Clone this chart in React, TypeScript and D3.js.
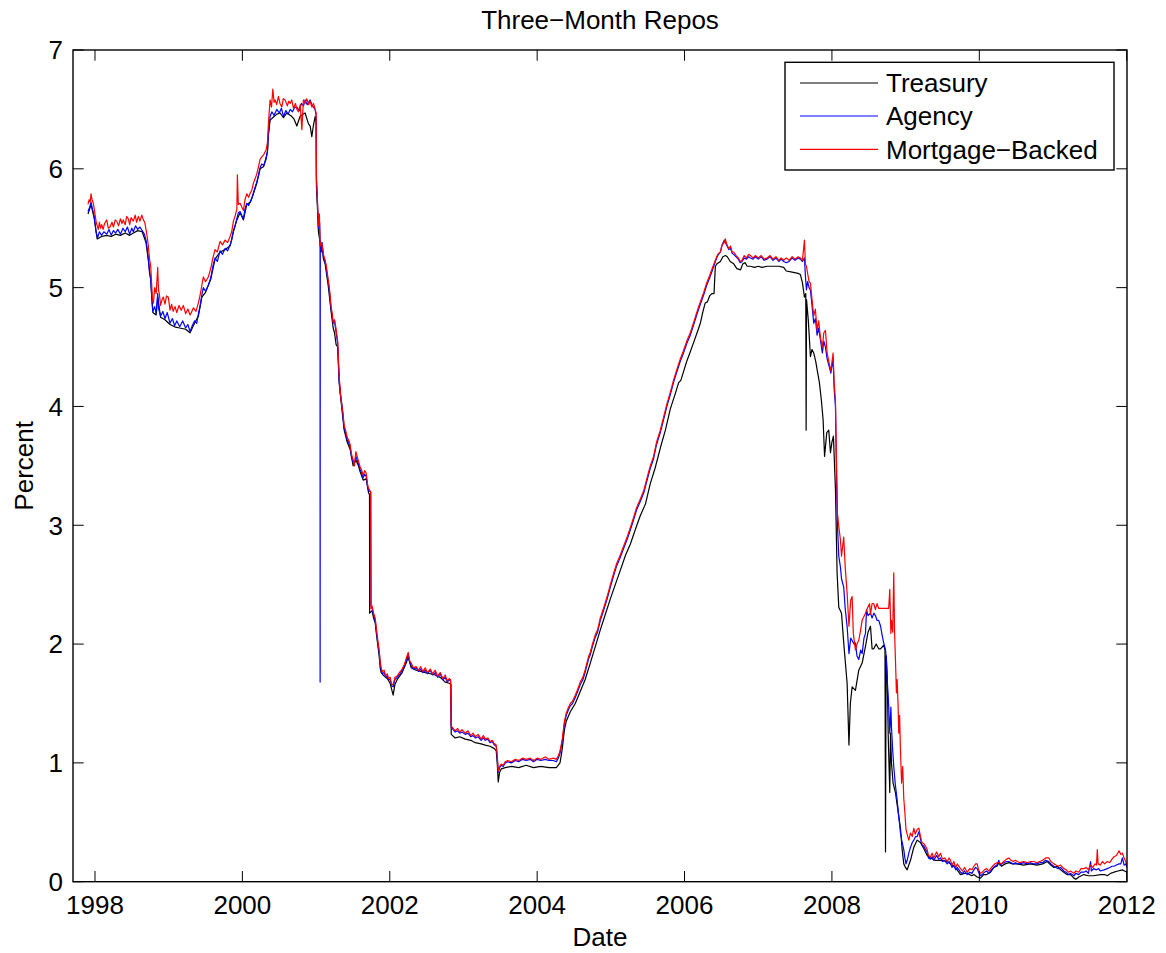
import React from "react";
import * as d3 from "d3";

// [decimal year, percent]
const treasury: [number, number][] = [
[1997.905,5.62],[1997.946,5.70],[1997.99,5.58],[1998.03,5.41],[1998.09,5.43],[1998.159,5.44],[1998.22,5.43],[1998.28,5.45],[1998.345,5.44],[1998.41,5.46],[1998.47,5.44],[1998.52,5.46],[1998.58,5.48],[1998.64,5.47],[1998.692,5.38],[1998.724,5.23],[1998.756,5.06],[1998.785,4.79],[1998.83,4.77],[1998.851,4.92],[1998.89,4.75],[1998.95,4.73],[1999.018,4.69],[1999.08,4.67],[1999.15,4.66],[1999.23,4.65],[1999.29,4.62],[1999.35,4.70],[1999.403,4.76],[1999.45,4.92],[1999.50,4.96],[1999.57,5.07],[1999.629,5.24],[1999.697,5.30],[1999.765,5.32],[1999.833,5.35],[1999.878,5.47],[1999.925,5.57],[1999.969,5.63],[2000.014,5.57],[2000.06,5.70],[2000.11,5.72],[2000.15,5.79],[2000.196,5.88],[2000.24,6.00],[2000.29,6.02],[2000.34,6.14],[2000.353,6.28],[2000.376,6.41],[2000.43,6.44],[2000.467,6.46],[2000.512,6.47],[2000.557,6.43],[2000.603,6.47],[2000.648,6.45],[2000.671,6.44],[2000.70,6.42],[2000.739,6.36],[2000.76,6.40],[2000.783,6.44],[2000.82,6.46],[2000.851,6.47],[2000.896,6.38],[2000.92,6.36],[2000.942,6.27],[2000.96,6.35],[2000.987,6.44],[2001.001,6.40],[2001.005,5.85],[2001.018,5.68],[2001.032,5.47],[2001.05,5.40],[2001.069,5.30],[2001.082,5.33],[2001.10,5.24],[2001.123,5.20],[2001.164,5.02],[2001.204,4.80],[2001.232,4.66],[2001.25,4.62],[2001.272,4.52],[2001.293,4.50],[2001.313,4.20],[2001.35,3.98],[2001.381,3.80],[2001.422,3.70],[2001.462,3.64],[2001.503,3.50],[2001.54,3.55],[2001.575,3.50],[2001.598,3.45],[2001.639,3.38],[2001.68,3.39],[2001.713,3.27],[2001.725,3.26],[2001.727,2.26],[2001.761,2.28],[2001.78,2.22],[2001.802,2.18],[2001.82,2.08],[2001.84,1.98],[2001.856,1.90],[2001.87,1.80],[2001.883,1.76],[2001.924,1.73],[2001.965,1.71],[2002.005,1.67],[2002.025,1.62],[2002.046,1.57],[2002.07,1.66],[2002.10,1.70],[2002.168,1.76],[2002.223,1.84],[2002.25,1.89],[2002.291,1.80],[2002.358,1.78],[2002.42,1.77],[2002.481,1.76],[2002.55,1.75],[2002.616,1.74],[2002.684,1.72],[2002.752,1.68],[2002.807,1.67],[2002.83,1.66],[2002.834,1.24],[2002.888,1.21],[2002.95,1.22],[2003.024,1.20],[2003.10,1.19],[2003.16,1.17],[2003.24,1.16],[2003.295,1.15],[2003.36,1.14],[2003.42,1.12],[2003.445,1.10],[2003.46,0.98],[2003.472,0.84],[2003.49,0.92],[2003.513,0.95],[2003.567,0.96],[2003.65,0.97],[2003.75,0.96],[2003.85,0.98],[2003.95,0.96],[2004.05,0.97],[2004.16,0.96],[2004.26,0.96],[2004.31,1.00],[2004.341,1.12],[2004.37,1.28],[2004.395,1.35],[2004.45,1.43],[2004.517,1.50],[2004.585,1.60],[2004.65,1.70],[2004.721,1.84],[2004.79,1.98],[2004.857,2.12],[2004.92,2.24],[2004.993,2.38],[2005.06,2.50],[2005.128,2.62],[2005.20,2.75],[2005.264,2.84],[2005.33,2.96],[2005.399,3.08],[2005.47,3.18],[2005.535,3.35],[2005.60,3.48],[2005.671,3.65],[2005.74,3.80],[2005.807,3.98],[2005.87,4.10],[2005.92,4.20],[2005.95,4.22],[2005.98,4.28],[2006.03,4.38],[2006.078,4.46],[2006.13,4.55],[2006.17,4.62],[2006.214,4.70],[2006.25,4.80],[2006.28,4.87],[2006.31,4.88],[2006.34,4.93],[2006.37,4.95],[2006.40,4.95],[2006.418,5.18],[2006.44,5.20],[2006.486,5.22],[2006.52,5.26],[2006.554,5.27],[2006.58,5.26],[2006.62,5.22],[2006.667,5.20],[2006.71,5.16],[2006.76,5.15],[2006.79,5.20],[2006.82,5.21],[2006.85,5.18],[2006.894,5.18],[2006.95,5.17],[2007.00,5.18],[2007.05,5.17],[2007.12,5.18],[2007.20,5.18],[2007.28,5.18],[2007.346,5.17],[2007.38,5.14],[2007.46,5.13],[2007.54,5.12],[2007.572,5.11],[2007.60,5.04],[2007.627,4.92],[2007.645,4.95],[2007.65,3.80],[2007.655,4.90],[2007.68,4.72],[2007.708,4.42],[2007.73,4.48],[2007.753,4.45],[2007.78,4.38],[2007.799,4.31],[2007.83,4.20],[2007.857,4.05],[2007.88,3.89],[2007.90,3.58],[2007.93,3.78],[2007.957,3.80],[2007.98,3.61],[2008.00,3.70],[2008.02,3.75],[2008.048,3.30],[2008.07,2.60],[2008.093,2.31],[2008.13,2.26],[2008.16,2.01],[2008.206,1.67],[2008.231,1.15],[2008.25,1.50],[2008.274,1.64],[2008.319,1.61],[2008.364,1.78],[2008.41,1.84],[2008.455,1.98],[2008.49,2.10],[2008.523,2.15],[2008.545,1.96],[2008.568,1.96],[2008.60,2.00],[2008.635,1.96],[2008.659,1.96],[2008.703,1.99],[2008.72,1.95],[2008.727,0.25],[2008.735,1.90],[2008.75,1.73],[2008.765,1.20],[2008.785,0.75],[2008.795,1.25],[2008.808,1.00],[2008.83,0.83],[2008.862,0.75],[2008.907,0.55],[2008.93,0.45],[2008.953,0.27],[2008.975,0.15],[2008.998,0.12],[2009.021,0.10],[2009.043,0.14],[2009.066,0.18],[2009.111,0.29],[2009.157,0.35],[2009.20,0.33],[2009.246,0.28],[2009.292,0.22],[2009.337,0.20],[2009.40,0.18],[2009.473,0.18],[2009.564,0.17],[2009.609,0.15],[2009.654,0.13],[2009.70,0.10],[2009.745,0.06],[2009.80,0.07],[2009.836,0.07],[2009.90,0.05],[2009.926,0.06],[2009.971,0.04],[2010.016,0.03],[2010.06,0.06],[2010.10,0.06],[2010.152,0.08],[2010.197,0.12],[2010.24,0.13],[2010.265,0.16],[2010.30,0.13],[2010.35,0.15],[2010.401,0.16],[2010.45,0.15],[2010.515,0.15],[2010.60,0.14],[2010.695,0.15],[2010.78,0.14],[2010.86,0.15],[2010.922,0.17],[2010.97,0.14],[2011.012,0.12],[2011.058,0.13],[2011.103,0.10],[2011.147,0.08],[2011.19,0.06],[2011.238,0.06],[2011.283,0.03],[2011.31,0.02],[2011.35,0.04],[2011.419,0.06],[2011.48,0.05],[2011.55,0.05],[2011.646,0.06],[2011.70,0.06],[2011.737,0.05],[2011.78,0.07],[2011.827,0.08],[2011.88,0.09],[2011.941,0.10],[2011.97,0.09],[2012.005,0.08]
];

const agency: [number, number][] = [
[1997.905,5.64],[1997.93,5.68],[1997.946,5.72],[1997.965,5.66],[1997.99,5.60],[1998.014,5.47],[1998.035,5.42],[1998.06,5.47],[1998.09,5.44],[1998.12,5.47],[1998.159,5.45],[1998.19,5.49],[1998.22,5.44],[1998.25,5.48],[1998.28,5.46],[1998.31,5.49],[1998.345,5.45],[1998.38,5.50],[1998.41,5.47],[1998.44,5.51],[1998.47,5.45],[1998.50,5.50],[1998.52,5.47],[1998.55,5.52],[1998.58,5.49],[1998.61,5.51],[1998.64,5.48],[1998.67,5.45],[1998.692,5.40],[1998.71,5.32],[1998.724,5.25],[1998.74,5.12],[1998.756,5.08],[1998.77,4.92],[1998.785,4.80],[1998.81,4.84],[1998.83,4.78],[1998.851,4.95],[1998.865,4.82],[1998.89,4.76],[1998.92,4.80],[1998.95,4.74],[1998.98,4.79],[1999.018,4.70],[1999.05,4.74],[1999.08,4.68],[1999.11,4.72],[1999.15,4.67],[1999.19,4.72],[1999.23,4.66],[1999.26,4.69],[1999.29,4.63],[1999.32,4.68],[1999.35,4.72],[1999.38,4.70],[1999.403,4.78],[1999.43,4.86],[1999.45,4.94],[1999.47,5.00],[1999.50,4.97],[1999.538,5.02],[1999.57,5.08],[1999.60,5.18],[1999.629,5.25],[1999.66,5.22],[1999.697,5.31],[1999.73,5.28],[1999.765,5.33],[1999.80,5.31],[1999.833,5.36],[1999.855,5.40],[1999.878,5.48],[1999.90,5.52],[1999.925,5.58],[1999.945,5.63],[1999.969,5.64],[1999.99,5.61],[2000.014,5.58],[2000.035,5.66],[2000.06,5.71],[2000.085,5.69],[2000.11,5.73],[2000.128,5.75],[2000.15,5.80],[2000.175,5.85],[2000.196,5.89],[2000.22,5.95],[2000.24,6.01],[2000.263,6.04],[2000.29,6.03],[2000.322,6.08],[2000.34,6.15],[2000.353,6.30],[2000.376,6.44],[2000.40,6.48],[2000.43,6.45],[2000.467,6.50],[2000.50,6.47],[2000.53,6.51],[2000.557,6.44],[2000.59,6.49],[2000.62,6.46],[2000.648,6.50],[2000.68,6.48],[2000.71,6.52],[2000.739,6.52],[2000.77,6.49],[2000.80,6.55],[2000.83,6.53],[2000.851,6.58],[2000.88,6.54],[2000.919,6.58],[2000.95,6.53],[2000.987,6.50],[2001.001,6.45],[2001.005,5.90],[2001.018,5.72],[2001.032,5.50],[2001.048,5.55],[2001.054,5.40],[2001.055,1.68],[2001.057,5.30],[2001.069,5.33],[2001.082,5.38],[2001.10,5.26],[2001.123,5.22],[2001.14,5.15],[2001.164,5.05],[2001.18,4.98],[2001.204,4.82],[2001.22,4.75],[2001.232,4.70],[2001.25,4.72],[2001.272,4.62],[2001.293,4.53],[2001.313,4.22],[2001.33,4.10],[2001.35,4.02],[2001.365,3.92],[2001.381,3.82],[2001.40,3.78],[2001.422,3.72],[2001.44,3.70],[2001.462,3.66],[2001.48,3.58],[2001.503,3.53],[2001.52,3.52],[2001.54,3.58],[2001.557,3.55],[2001.575,3.52],[2001.598,3.47],[2001.62,3.44],[2001.639,3.40],[2001.66,3.43],[2001.68,3.41],[2001.70,3.32],[2001.713,3.29],[2001.741,3.28],[2001.745,2.32],[2001.761,2.30],[2001.78,2.24],[2001.802,2.20],[2001.82,2.10],[2001.84,2.00],[2001.856,1.93],[2001.87,1.84],[2001.883,1.78],[2001.90,1.75],[2001.924,1.76],[2001.945,1.72],[2001.965,1.73],[2001.985,1.70],[2002.005,1.70],[2002.025,1.65],[2002.046,1.64],[2002.07,1.70],[2002.10,1.72],[2002.13,1.74],[2002.168,1.78],[2002.20,1.82],[2002.223,1.86],[2002.25,1.91],[2002.27,1.85],[2002.291,1.82],[2002.32,1.79],[2002.358,1.80],[2002.39,1.77],[2002.42,1.79],[2002.45,1.76],[2002.481,1.78],[2002.51,1.75],[2002.55,1.78],[2002.58,1.74],[2002.616,1.76],[2002.65,1.72],[2002.684,1.75],[2002.72,1.70],[2002.752,1.72],[2002.78,1.68],[2002.807,1.70],[2002.825,1.69],[2002.834,1.30],[2002.86,1.28],[2002.888,1.26],[2002.92,1.27],[2002.95,1.25],[2002.98,1.26],[2003.024,1.24],[2003.06,1.25],[2003.10,1.22],[2003.13,1.23],[2003.16,1.21],[2003.20,1.22],[2003.24,1.19],[2003.27,1.21],[2003.295,1.19],[2003.33,1.20],[2003.36,1.17],[2003.39,1.18],[2003.42,1.15],[2003.445,1.14],[2003.46,1.03],[2003.472,0.92],[2003.49,0.96],[2003.513,0.98],[2003.54,0.97],[2003.567,1.00],[2003.60,1.01],[2003.65,1.00],[2003.703,1.02],[2003.75,1.01],[2003.80,1.03],[2003.85,1.02],[2003.906,1.03],[2003.95,1.01],[2004.00,1.03],[2004.05,1.02],[2004.11,1.03],[2004.16,1.02],[2004.22,1.02],[2004.26,1.01],[2004.287,1.04],[2004.31,1.08],[2004.341,1.18],[2004.37,1.33],[2004.395,1.40],[2004.42,1.44],[2004.45,1.48],[2004.48,1.50],[2004.517,1.55],[2004.55,1.60],[2004.585,1.66],[2004.62,1.70],[2004.65,1.76],[2004.70,1.88],[2004.721,1.91],[2004.75,1.98],[2004.79,2.06],[2004.82,2.10],[2004.857,2.20],[2004.90,2.28],[2004.95,2.38],[2004.993,2.48],[2005.04,2.58],[2005.08,2.66],[2005.128,2.73],[2005.17,2.80],[2005.22,2.88],[2005.264,2.96],[2005.30,3.03],[2005.35,3.13],[2005.399,3.20],[2005.45,3.28],[2005.50,3.40],[2005.535,3.48],[2005.58,3.56],[2005.62,3.68],[2005.671,3.78],[2005.72,3.90],[2005.76,4.00],[2005.807,4.10],[2005.85,4.20],[2005.90,4.30],[2005.942,4.38],[2005.98,4.44],[2006.03,4.53],[2006.078,4.60],[2006.12,4.68],[2006.17,4.78],[2006.214,4.86],[2006.26,4.94],[2006.30,5.02],[2006.34,5.08],[2006.38,5.15],[2006.418,5.22],[2006.45,5.27],[2006.486,5.30],[2006.51,5.36],[2006.54,5.40],[2006.554,5.38],[2006.57,5.36],[2006.60,5.32],[2006.625,5.33],[2006.645,5.29],[2006.667,5.28],[2006.70,5.26],[2006.73,5.24],[2006.755,5.21],[2006.781,5.22],[2006.81,5.25],[2006.84,5.24],[2006.87,5.26],[2006.894,5.25],[2006.93,5.24],[2006.96,5.26],[2007.00,5.24],[2007.04,5.26],[2007.08,5.23],[2007.12,5.24],[2007.16,5.26],[2007.20,5.23],[2007.24,5.25],[2007.28,5.22],[2007.31,5.24],[2007.346,5.22],[2007.38,5.21],[2007.42,5.22],[2007.46,5.25],[2007.50,5.23],[2007.54,5.25],[2007.572,5.24],[2007.60,5.22],[2007.627,5.25],[2007.64,5.10],[2007.654,4.98],[2007.67,5.05],[2007.69,5.00],[2007.708,4.98],[2007.73,4.85],[2007.753,4.70],[2007.775,4.74],[2007.799,4.60],[2007.82,4.66],[2007.844,4.56],[2007.87,4.45],[2007.89,4.55],[2007.912,4.50],[2007.935,4.40],[2007.957,4.35],[2007.985,4.28],[2008.016,4.40],[2008.03,4.15],[2008.048,4.00],[2008.06,3.50],[2008.075,3.00],[2008.093,2.74],[2008.115,2.65],[2008.13,2.55],[2008.16,2.48],[2008.18,2.30],[2008.206,2.15],[2008.231,1.92],[2008.255,2.05],[2008.274,2.03],[2008.30,2.00],[2008.319,2.01],[2008.34,1.90],[2008.364,1.87],[2008.39,1.95],[2008.41,1.92],[2008.435,2.05],[2008.455,2.09],[2008.47,2.29],[2008.49,2.24],[2008.523,2.26],[2008.545,2.22],[2008.568,2.26],[2008.59,2.24],[2008.612,2.20],[2008.635,2.20],[2008.66,2.15],[2008.68,2.08],[2008.703,2.01],[2008.727,1.95],[2008.74,1.87],[2008.75,1.70],[2008.765,1.55],[2008.785,1.25],[2008.80,1.47],[2008.808,1.30],[2008.825,1.10],[2008.839,0.97],[2008.86,0.82],[2008.885,0.69],[2008.907,0.55],[2008.93,0.41],[2008.953,0.33],[2008.975,0.27],[2008.99,0.20],[2009.005,0.15],[2009.021,0.18],[2009.043,0.24],[2009.066,0.29],[2009.09,0.33],[2009.111,0.35],[2009.135,0.38],[2009.157,0.38],[2009.18,0.42],[2009.202,0.36],[2009.22,0.31],[2009.246,0.30],[2009.27,0.27],[2009.292,0.25],[2009.31,0.20],[2009.337,0.19],[2009.36,0.21],[2009.38,0.18],[2009.42,0.22],[2009.45,0.19],[2009.473,0.20],[2009.50,0.17],[2009.53,0.18],[2009.564,0.15],[2009.59,0.17],[2009.609,0.15],[2009.63,0.12],[2009.654,0.14],[2009.68,0.10],[2009.70,0.12],[2009.745,0.08],[2009.77,0.07],[2009.80,0.09],[2009.836,0.06],[2009.87,0.08],[2009.90,0.07],[2009.926,0.10],[2009.95,0.12],[2009.971,0.11],[2009.99,0.08],[2010.016,0.05],[2010.039,0.06],[2010.07,0.08],[2010.10,0.09],[2010.13,0.07],[2010.152,0.09],[2010.18,0.11],[2010.21,0.13],[2010.24,0.14],[2010.265,0.18],[2010.28,0.14],[2010.33,0.16],[2010.37,0.17],[2010.401,0.17],[2010.43,0.16],[2010.46,0.15],[2010.49,0.16],[2010.515,0.15],[2010.55,0.15],[2010.60,0.16],[2010.65,0.15],[2010.695,0.16],[2010.74,0.15],[2010.78,0.15],[2010.82,0.16],[2010.86,0.16],[2010.90,0.18],[2010.944,0.17],[2010.97,0.15],[2011.012,0.13],[2011.04,0.12],[2011.07,0.11],[2011.103,0.12],[2011.147,0.09],[2011.18,0.08],[2011.21,0.06],[2011.238,0.07],[2011.283,0.05],[2011.31,0.07],[2011.35,0.06],[2011.38,0.08],[2011.419,0.08],[2011.45,0.09],[2011.48,0.07],[2011.51,0.17],[2011.52,0.09],[2011.55,0.11],[2011.59,0.10],[2011.62,0.11],[2011.64,0.09],[2011.691,0.10],[2011.737,0.11],[2011.77,0.12],[2011.80,0.13],[2011.827,0.13],[2011.86,0.14],[2011.896,0.15],[2011.92,0.15],[2011.941,0.20],[2011.965,0.14],[2011.986,0.15],[2012.005,0.12]
];

const mortgage: [number, number][] = [
[1997.905,5.70],[1997.92,5.74],[1997.935,5.72],[1997.946,5.79],[1997.96,5.74],[1997.977,5.71],[1997.99,5.66],[1998.014,5.56],[1998.03,5.52],[1998.045,5.49],[1998.06,5.55],[1998.075,5.50],[1998.091,5.53],[1998.11,5.49],[1998.13,5.54],[1998.159,5.57],[1998.18,5.50],[1998.204,5.51],[1998.23,5.55],[1998.25,5.51],[1998.275,5.57],[1998.295,5.56],[1998.32,5.52],[1998.345,5.58],[1998.365,5.54],[1998.384,5.57],[1998.41,5.53],[1998.43,5.60],[1998.452,5.58],[1998.47,5.53],[1998.49,5.59],[1998.52,5.56],[1998.545,5.61],[1998.565,5.55],[1998.588,5.60],[1998.61,5.56],[1998.635,5.61],[1998.656,5.57],[1998.675,5.55],[1998.692,5.49],[1998.71,5.42],[1998.724,5.35],[1998.74,5.24],[1998.756,5.18],[1998.77,5.02],[1998.78,4.90],[1998.792,4.87],[1998.81,5.00],[1998.83,4.95],[1998.851,5.17],[1998.862,4.98],[1998.873,4.95],[1998.89,4.85],[1998.91,4.90],[1998.927,4.92],[1998.95,4.86],[1998.97,4.93],[1998.995,4.92],[1999.018,4.81],[1999.04,4.86],[1999.06,4.80],[1999.086,4.84],[1999.11,4.79],[1999.14,4.85],[1999.17,4.81],[1999.199,4.85],[1999.23,4.78],[1999.26,4.82],[1999.29,4.77],[1999.315,4.80],[1999.335,4.83],[1999.37,4.80],[1999.403,4.87],[1999.43,4.95],[1999.45,5.02],[1999.47,5.09],[1999.50,5.05],[1999.538,5.09],[1999.57,5.16],[1999.60,5.25],[1999.629,5.32],[1999.66,5.30],[1999.697,5.39],[1999.73,5.36],[1999.765,5.40],[1999.80,5.38],[1999.833,5.43],[1999.855,5.47],[1999.878,5.56],[1999.90,5.60],[1999.925,5.66],[1999.932,5.95],[1999.945,5.70],[1999.969,5.71],[1999.99,5.68],[2000.014,5.65],[2000.035,5.74],[2000.06,5.79],[2000.085,5.76],[2000.11,5.80],[2000.128,5.82],[2000.15,5.88],[2000.175,5.92],[2000.196,5.96],[2000.22,6.02],[2000.24,6.08],[2000.263,6.10],[2000.29,6.12],[2000.322,6.16],[2000.34,6.22],[2000.353,6.38],[2000.376,6.58],[2000.395,6.52],[2000.413,6.67],[2000.43,6.56],[2000.444,6.58],[2000.465,6.54],[2000.489,6.61],[2000.51,6.55],[2000.535,6.52],[2000.555,6.59],[2000.58,6.58],[2000.61,6.53],[2000.63,6.57],[2000.648,6.55],[2000.67,6.58],[2000.693,6.51],[2000.72,6.55],[2000.74,6.50],[2000.76,6.48],[2000.785,6.54],[2000.807,6.33],[2000.828,6.58],[2000.85,6.55],[2000.874,6.59],[2000.90,6.54],[2000.92,6.57],[2000.942,6.52],[2000.965,6.55],[2000.987,6.50],[2001.001,6.47],[2001.005,5.94],[2001.018,5.74],[2001.032,5.52],[2001.045,5.62],[2001.055,5.35],[2001.069,5.38],[2001.082,5.36],[2001.10,5.28],[2001.123,5.23],[2001.14,5.18],[2001.164,5.07],[2001.18,5.00],[2001.204,4.84],[2001.22,4.78],[2001.232,4.71],[2001.25,4.73],[2001.272,4.65],[2001.293,4.55],[2001.313,4.26],[2001.33,4.12],[2001.35,4.00],[2001.365,3.95],[2001.381,3.84],[2001.40,3.80],[2001.422,3.74],[2001.44,3.72],[2001.462,3.68],[2001.48,3.60],[2001.503,3.55],[2001.52,3.50],[2001.54,3.62],[2001.557,3.58],[2001.575,3.54],[2001.598,3.49],[2001.62,3.46],[2001.639,3.42],[2001.66,3.46],[2001.68,3.44],[2001.70,3.34],[2001.713,3.31],[2001.741,3.28],[2001.745,2.30],[2001.761,2.32],[2001.78,2.26],[2001.802,2.22],[2001.82,2.12],[2001.84,2.02],[2001.856,1.95],[2001.87,1.85],[2001.883,1.80],[2001.90,1.77],[2001.924,1.78],[2001.945,1.73],[2001.965,1.75],[2001.985,1.71],[2002.005,1.72],[2002.025,1.66],[2002.046,1.66],[2002.07,1.72],[2002.10,1.73],[2002.13,1.76],[2002.168,1.79],[2002.20,1.83],[2002.223,1.88],[2002.25,1.93],[2002.27,1.86],[2002.291,1.84],[2002.32,1.80],[2002.358,1.81],[2002.39,1.78],[2002.42,1.81],[2002.45,1.77],[2002.481,1.80],[2002.51,1.76],[2002.55,1.79],[2002.58,1.75],[2002.616,1.78],[2002.65,1.73],[2002.684,1.76],[2002.72,1.71],[2002.752,1.74],[2002.78,1.69],[2002.807,1.71],[2002.825,1.70],[2002.834,1.31],[2002.86,1.29],[2002.888,1.27],[2002.92,1.29],[2002.95,1.26],[2002.98,1.28],[2003.024,1.25],[2003.06,1.27],[2003.10,1.23],[2003.13,1.25],[2003.16,1.22],[2003.20,1.24],[2003.24,1.20],[2003.27,1.23],[2003.295,1.20],[2003.33,1.21],[2003.36,1.18],[2003.39,1.19],[2003.42,1.16],[2003.445,1.15],[2003.46,1.05],[2003.472,0.93],[2003.49,0.97],[2003.513,0.99],[2003.54,0.98],[2003.567,1.01],[2003.60,1.02],[2003.65,1.01],[2003.703,1.03],[2003.75,1.02],[2003.80,1.04],[2003.85,1.03],[2003.906,1.04],[2003.95,1.02],[2004.00,1.04],[2004.05,1.03],[2004.11,1.05],[2004.16,1.03],[2004.22,1.04],[2004.26,1.03],[2004.287,1.06],[2004.31,1.10],[2004.341,1.20],[2004.37,1.35],[2004.395,1.42],[2004.42,1.46],[2004.45,1.50],[2004.48,1.52],[2004.517,1.57],[2004.55,1.62],[2004.585,1.68],[2004.62,1.72],[2004.65,1.78],[2004.70,1.90],[2004.721,1.93],[2004.75,2.00],[2004.79,2.08],[2004.82,2.12],[2004.857,2.22],[2004.90,2.30],[2004.95,2.40],[2004.993,2.50],[2005.04,2.60],[2005.08,2.68],[2005.128,2.75],[2005.17,2.82],[2005.22,2.90],[2005.264,2.98],[2005.30,3.05],[2005.35,3.15],[2005.399,3.22],[2005.45,3.30],[2005.50,3.42],[2005.535,3.50],[2005.58,3.58],[2005.62,3.70],[2005.671,3.80],[2005.72,3.92],[2005.76,4.02],[2005.807,4.12],[2005.85,4.22],[2005.90,4.32],[2005.942,4.40],[2005.98,4.46],[2006.03,4.55],[2006.078,4.62],[2006.12,4.70],[2006.17,4.80],[2006.214,4.88],[2006.26,4.96],[2006.30,5.04],[2006.34,5.10],[2006.38,5.17],[2006.418,5.23],[2006.45,5.28],[2006.486,5.30],[2006.51,5.36],[2006.54,5.38],[2006.554,5.41],[2006.57,5.37],[2006.60,5.33],[2006.625,5.35],[2006.645,5.30],[2006.667,5.30],[2006.70,5.27],[2006.73,5.25],[2006.755,5.22],[2006.781,5.23],[2006.81,5.27],[2006.84,5.25],[2006.87,5.28],[2006.894,5.27],[2006.93,5.25],[2006.96,5.27],[2007.00,5.25],[2007.04,5.27],[2007.08,5.24],[2007.12,5.25],[2007.16,5.27],[2007.20,5.24],[2007.24,5.26],[2007.28,5.23],[2007.31,5.25],[2007.346,5.23],[2007.38,5.25],[2007.42,5.23],[2007.46,5.26],[2007.50,5.24],[2007.54,5.26],[2007.572,5.25],[2007.60,5.23],[2007.627,5.40],[2007.64,5.20],[2007.654,5.18],[2007.67,5.12],[2007.69,5.05],[2007.708,5.04],[2007.73,4.90],[2007.753,4.76],[2007.775,4.82],[2007.799,4.64],[2007.82,4.72],[2007.844,4.58],[2007.87,4.50],[2007.89,4.62],[2007.912,4.64],[2007.935,4.45],[2007.957,4.38],[2007.985,4.30],[2008.016,4.45],[2008.03,4.20],[2008.048,4.05],[2008.06,3.60],[2008.075,3.10],[2008.093,2.99],[2008.115,2.88],[2008.13,2.74],[2008.16,2.90],[2008.18,2.65],[2008.206,2.43],[2008.231,2.15],[2008.255,2.37],[2008.274,2.40],[2008.29,2.09],[2008.319,1.95],[2008.34,2.00],[2008.364,2.03],[2008.39,2.12],[2008.41,2.20],[2008.455,2.26],[2008.48,2.30],[2008.51,2.34],[2008.523,2.25],[2008.545,2.34],[2008.568,2.34],[2008.59,2.29],[2008.612,2.34],[2008.635,2.30],[2008.66,2.30],[2008.70,2.30],[2008.727,2.30],[2008.75,2.30],[2008.77,2.30],[2008.785,2.46],[2008.80,2.09],[2008.808,2.20],[2008.825,2.10],[2008.839,2.60],[2008.85,2.10],[2008.862,1.87],[2008.875,1.59],[2008.885,1.70],[2008.897,1.50],[2008.907,1.25],[2008.918,1.40],[2008.93,1.11],[2008.945,0.83],[2008.96,0.97],[2008.975,0.70],[2008.99,0.58],[2009.005,0.44],[2009.021,0.40],[2009.043,0.35],[2009.066,0.41],[2009.09,0.38],[2009.111,0.45],[2009.13,0.40],[2009.157,0.44],[2009.18,0.45],[2009.202,0.38],[2009.22,0.33],[2009.246,0.32],[2009.27,0.30],[2009.292,0.27],[2009.31,0.22],[2009.337,0.21],[2009.36,0.24],[2009.38,0.20],[2009.42,0.25],[2009.45,0.21],[2009.473,0.24],[2009.50,0.19],[2009.53,0.20],[2009.564,0.17],[2009.59,0.20],[2009.609,0.18],[2009.63,0.14],[2009.654,0.17],[2009.68,0.12],[2009.70,0.15],[2009.745,0.11],[2009.77,0.09],[2009.80,0.12],[2009.836,0.08],[2009.87,0.11],[2009.90,0.10],[2009.926,0.13],[2009.95,0.15],[2009.971,0.15],[2009.99,0.10],[2010.016,0.07],[2010.039,0.08],[2010.07,0.10],[2010.10,0.11],[2010.13,0.09],[2010.152,0.11],[2010.18,0.13],[2010.21,0.15],[2010.24,0.16],[2010.265,0.16],[2010.30,0.15],[2010.33,0.17],[2010.37,0.19],[2010.401,0.20],[2010.43,0.18],[2010.46,0.17],[2010.49,0.18],[2010.515,0.17],[2010.55,0.16],[2010.60,0.17],[2010.65,0.16],[2010.695,0.17],[2010.74,0.17],[2010.78,0.16],[2010.82,0.17],[2010.86,0.18],[2010.90,0.20],[2010.944,0.20],[2010.97,0.17],[2011.012,0.15],[2011.04,0.14],[2011.07,0.13],[2011.103,0.14],[2011.147,0.11],[2011.18,0.10],[2011.21,0.08],[2011.238,0.09],[2011.283,0.07],[2011.31,0.09],[2011.35,0.08],[2011.38,0.11],[2011.419,0.11],[2011.45,0.12],[2011.48,0.10],[2011.51,0.14],[2011.54,0.12],[2011.57,0.15],[2011.59,0.14],[2011.601,0.27],[2011.612,0.15],[2011.64,0.14],[2011.67,0.17],[2011.70,0.15],[2011.737,0.17],[2011.77,0.16],[2011.80,0.19],[2011.827,0.21],[2011.86,0.22],[2011.896,0.26],[2011.92,0.23],[2011.941,0.24],[2011.965,0.20],[2011.986,0.17],[2012.005,0.14]
];

const seriesNames = ["Treasury", "Agency", "Mortgage\u2212Backed"];
const seriesColors = ["#000000", "#0000ff", "#ff0000"];
const xTickValues = [1998, 2000, 2002, 2004, 2006, 2008, 2010, 2012];
const yTickValues = [0, 1, 2, 3, 4, 5, 6, 7];
const titleText = "Three\u2212Month Repos";
const xLabelText = "Date";
const yLabelText = "Percent";

const W = 1166;
const H = 953;
const L = 73, R = 1127, T = 50, B = 881.7;
const FONT = "'Liberation Sans', Arial, Helvetica, sans-serif";
const FS = 26;

export default function App() {
  const x = d3.scaleLinear().domain([1997.7015, 2012.004]).range([L, R]);
  const y = d3.scaleLinear().domain([0, 7]).range([B, T]);
  const line = d3.line<[number, number]>().x(d => x(d[0])).y(d => y(d[1]));
  const all = [treasury, agency, mortgage];
  const tickLen = 10.7;

  const legX = 785, legY = 62.3, legW = 329, legH = 107.7;
  const legRows = [83, 116, 149.3];

  return (
    <svg width={W} height={H} style={{ position: "absolute", left: 0, top: 0, display: "block", background: "#fff" }} fontFamily={FONT}>
      <rect x={0} y={0} width={W} height={H} fill="#fff" />
      <defs>
        <clipPath id="plotClip">
          <rect x={L} y={T} width={R - L} height={B - T} />
        </clipPath>
      </defs>
      <g clipPath="url(#plotClip)">
        {all.map((s, i) => (
          <path key={i} d={line(s) || ""} fill="none" stroke={seriesColors[i]} strokeWidth={1.2} strokeLinejoin="round" />
        ))}
      </g>
      {/* axes box */}
      <rect x={L} y={T} width={R - L} height={B - T} fill="none" stroke="#000" strokeWidth={1.4} />
      {xTickValues.map(v => (
        <g key={"xt" + v}>
          <line x1={x(v)} x2={x(v)} y1={B} y2={B - tickLen} stroke="#000" strokeWidth={1} />
          <line x1={x(v)} x2={x(v)} y1={T} y2={T + tickLen} stroke="#000" strokeWidth={1} />
          <text x={x(v)} y={914} textAnchor="middle" fontSize={FS} fill="#000">{v}</text>
        </g>
      ))}
      {yTickValues.map(v => (
        <g key={"yt" + v}>
          <line x1={L} x2={L + tickLen} y1={y(v)} y2={y(v)} stroke="#000" strokeWidth={1} />
          <line x1={R} x2={R - tickLen} y1={y(v)} y2={y(v)} stroke="#000" strokeWidth={1} />
          <text x={63} y={y(v) + 9.3} textAnchor="end" fontSize={FS} fill="#000">{v}</text>
        </g>
      ))}
      <text x={(L + R) / 2} y={29} textAnchor="middle" fontSize={FS} fill="#000">{titleText}</text>
      <text x={(L + R) / 2} y={945.5} textAnchor="middle" fontSize={FS} fill="#000">{xLabelText}</text>
      <text transform={`translate(32.5,${(T + B) / 2}) rotate(-90)`} textAnchor="middle" fontSize={FS} fill="#000">{yLabelText}</text>
      {/* legend */}
      <rect x={legX} y={legY} width={legW} height={legH} fill="#fff" stroke="#000" strokeWidth={1.4} />
      {seriesNames.map((n, i) => (
        <g key={n}>
          <line x1={800} x2={878} y1={legRows[i]} y2={legRows[i]} stroke={seriesColors[i]} strokeWidth={1.2} />
          <text x={886} y={legRows[i] + 9.3} fontSize={FS} fill="#000">{n}</text>
        </g>
      ))}
    </svg>
  );
}
